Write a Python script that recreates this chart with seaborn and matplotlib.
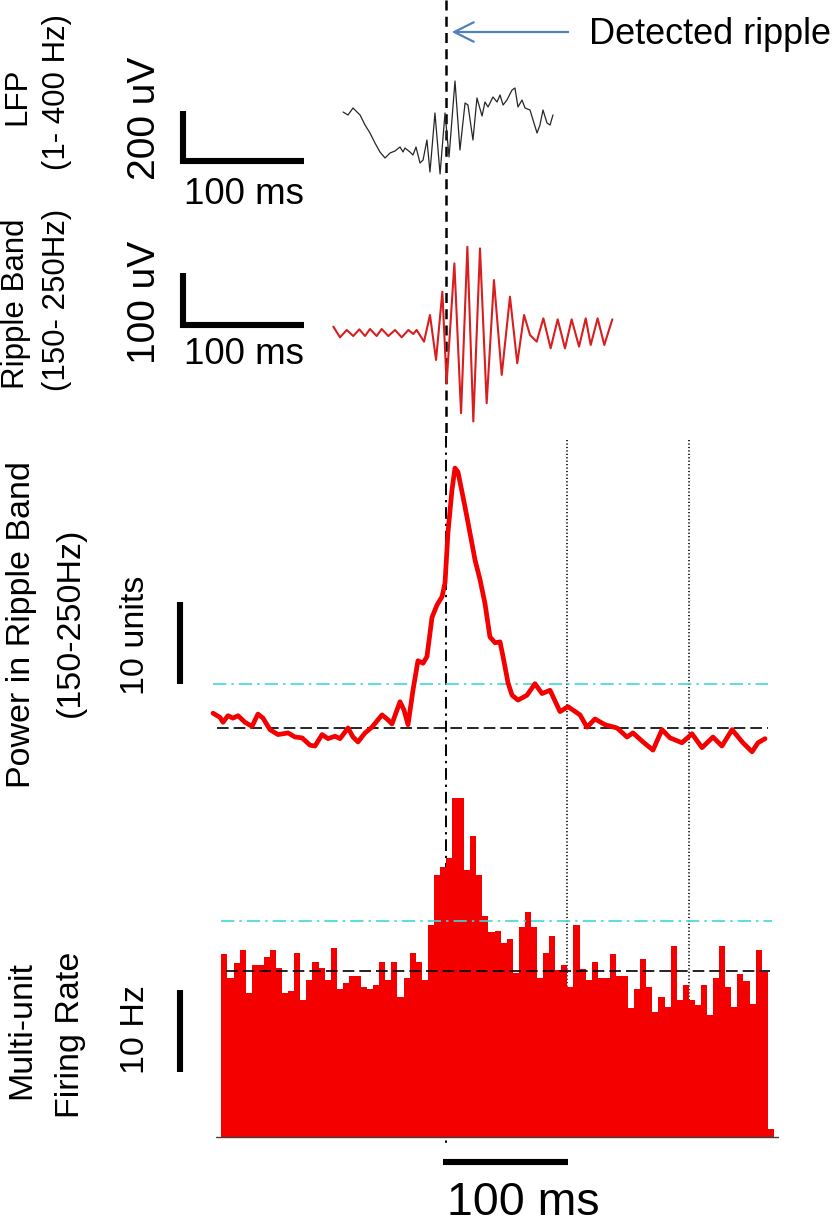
import numpy as np
import pandas as pd
import matplotlib
matplotlib.use("Agg")
import matplotlib.pyplot as plt
import seaborn as sns

sns.set_style("white")
plt.rcParams["font.family"] = ["Liberation Sans", "DejaVu Sans"]

# ---------------- data (time in ms relative to detected ripple) ----------------
lfp_t = [-84.8, -80.7, -76.6, -70.8, -66.7, -62.6, -58.5, -54.4, -50.2, -46.1, -42.0,
         -37.9, -35.4, -33.8, -29.7, -27.2, -24.7, -21.4, -18.9, -15.7, -13.2, -9.1,
         -4.9, -0.8, 2.5, 7.4, 11.5, 15.7, 18.1, 22.2, 25.5, 29.7, 32.1, 34.6, 38.7,
         42.0, 44.5, 47.0, 50.2, 54.4, 56.8, 59.3, 62.6, 65.1, 69.2, 71.7, 75.0, 77.4,
         79.9, 83.2, 85.7, 88.1]
lfp_uv = [72, 60, 88, 60, 20, -12, -52, -88, -112, -92, -84,
          -68, -88, -72, -88, -100, -68, -132, -120, -40, -168, 68,
          -176, 68, -108, 196, -80, 108, 100, -40, 128, 56, 112, 92, 132,
          112, 140, 100, 120, 160, 168, 92, 120, 88, 80, 40, -12, 20,
          80, 28, 20, 60]

ripple_t = [-92.8, -87.3, -81.8, -76.4, -71.4, -66.7, -62.6, -57.1, -53.0, -47.5, -42.0,
            -36.5, -31.0, -26.9, -24.2, -18.1, -13.2, -8.2, -3.0, 0.5, 6.9, 12.4, 17.6,
            22.5, 28.0, 33.5, 39.5, 45.9, 52.7, 58.7, 64.3, 69.2, 74.7, 80.2, 86.2, 92.0,
            98.0, 103.5, 109.6, 115.1, 119.2, 124.9, 130.4, 137.0]
ripple_uv = [12.2, -8.3, 5.8, -5.8, 7.0, -5.8, 7.7, -5.8, 7.7, -5.8, 5.8,
             -8.3, 5.8, -1.9, 5.8, -16.6, 34.6, -51.8, 79.4, -96.6, 133.8, -154.2, 165.8,
             -170.2, 162.6, -135.0, 101.8, -80.6, 69.8, -58.2, 34.6, -3.8, -16.6, 28.2, -29.4, 26.2,
             -29.4, 26.2, -26.2, 28.2, -23.0, 28.2, -23.0, 26.2]

power_t = [-191.9, -186.2, -183.7, -179.6, -175.5, -171.3, -165.6, -159.8, -154.9, -150.7,
           -145.0, -138.4, -130.1, -124.4, -118.6, -112.0, -107.9, -102.1, -97.2, -91.4,
           -87.3, -80.7, -76.6, -72.5, -66.7, -61.0, -52.7, -47.8, -44.5, -37.9,
           -34.6, -31.3, -27.2, -23.1, -18.9, -15.7, -11.5, -7.4, -3.3, -0.8,
           1.6, 4.9, 7.4, 9.9, 14.0, 17.3, 23.9, 28.0, 32.1, 36.2,
           40.4, 44.5, 47.0, 51.1, 54.4, 59.3, 66.7, 73.3, 79.1, 85.7,
           93.9, 100.5, 110.4, 116.1, 122.7, 131.0, 140.9, 149.1, 154.0, 162.3,
           170.5, 177.9, 184.5, 194.4, 202.6, 210.9, 219.9, 227.3, 235.6, 244.6,
           252.1, 257.0, 262.8]
power_units = [6.8, 6.3, 5.7, 6.5, 6.2, 6.5, 5.7, 5.2, 6.7, 6.2,
               4.8, 4.2, 4.4, 3.9, 3.8, 2.9, 2.8, 4.2, 3.7, 4.0,
               3.7, 5.0, 3.9, 3.3, 4.4, 5.1, 6.6, 6.0, 5.5, 8.2,
               7.2, 5.4, 9.6, 13.2, 12.9, 13.7, 18.5, 20.0, 21.0, 22.7,
               28.8, 34.0, 36.7, 36.2, 33.2, 30.7, 25.5, 23.1, 20.2, 16.1,
               15.4, 15.5, 13.7, 10.5, 9.0, 8.4, 9.0, 10.4, 9.2, 9.6,
               7.0, 7.6, 6.6, 5.1, 6.1, 5.4, 5.0, 3.9, 4.4, 3.3,
               2.3, 4.8, 3.8, 3.2, 4.3, 2.6, 3.9, 2.8, 4.8, 3.2,
               2.1, 3.2, 3.7]
power_mean = 5.0
power_thresh = 10.4

mua_bin_start = -185
mua_bin_ms = 5
mua_rate_hz = [22.3, 19.4, 21.2, 22.8, 17.6, 21.0, 21.0, 22.0, 22.8, 20.6,
               17.6, 17.8, 22.4, 16.7, 19.1, 21.3, 20.6, 19.1, 23.0, 18.0,
               18.8, 19.6, 19.6, 18.3, 18.0, 18.5, 21.3, 19.1, 21.3, 17.1,
               19.4, 22.4, 21.3, 19.1, 25.9, 32.0, 32.9, 34.0, 41.3, 41.3,
               32.6, 36.7, 32.0, 27.0, 25.0, 25.1, 23.7, 24.1, 20.0, 25.6,
               27.4, 25.6, 19.4, 22.4, 24.5, 20.4, 21.0, 18.3, 25.9, 20.5,
               19.1, 21.3, 19.4, 19.4, 22.3, 19.6, 19.6, 15.7, 18.0, 21.7,
               18.3, 15.2, 17.1, 15.9, 23.3, 16.7, 18.5, 16.7, 16.1, 18.5,
               14.9, 19.4, 23.3, 18.3, 15.9, 19.9, 19.0, 16.2, 22.8, 20.1,
               1.0]
mua_mean = 20.2
mua_thresh = 26.3

ripple_onset = 0
grid_marks = [100, 200]

# ---------------- layout helpers (figure is laid out in pixels) ----------------
W, H = 838, 1230
T0_PX, PX_PER_MS = 446.0, 1.214
XLIM = (-T0_PX / PX_PER_MS, (W - T0_PX) / PX_PER_MS)

fig = plt.figure(figsize=(W / 100, H / 100), dpi=100)


def panel(top, bottom, zero_px, px_per_unit):
    ax = fig.add_axes([0, 1 - bottom / H, 1, (bottom - top) / H])
    ax.set_xlim(*XLIM)
    ax.set_ylim((zero_px - bottom) / px_per_unit, (zero_px - top) / px_per_unit)
    ax.axis("off")
    ax.patch.set_alpha(0)
    return ax


def ms(px):
    return (px - T0_PX) / PX_PER_MS


def label(x, y, s, size, rot=90, ha="center"):
    fig.text(x / W, 1 - y / H, s, fontsize=size, rotation=rot,
             ha=ha, va="center", color="black")


RED = "#f40000"
CYAN = "#3fd8d8"
BAR_LW = 4.4

# overlay in pixel rows for the event markers and arrow
ov = panel(0, H, 0, -1)
ov.set_ylim(H, 0)

ax_lfp = panel(0, 200, 130, 0.25)
ax_rip = panel(200, 430, 333, 0.52)
ax_pow = panel(430, 780, 769, 8.2)
ax_mua = panel(780, 1180, 1137, 8.2)
mua_ylim = ax_mua.get_ylim()

# ---------------- LFP ----------------
sns.lineplot(x=lfp_t, y=lfp_uv, ax=ax_lfp, color="#262626", lw=0.9,
             estimator=None, sort=False)
ax_lfp.plot([ms(183), ms(183), ms(183) + 100], [-124 + 200, -124, -124],
            color="black", lw=BAR_LW, solid_joinstyle="miter", solid_capstyle="butt")

# ---------------- ripple band ----------------
sns.lineplot(x=ripple_t, y=ripple_uv, ax=ax_rip, color="#d81e1e", lw=1.5,
             estimator=None, sort=False)
for ln in ax_rip.lines:
    ln.set_solid_joinstyle("round")
ax_rip.plot([ms(183), ms(183), ms(183) + 100], [15.4 + 100, 15.4, 15.4],
            color="black", lw=BAR_LW, solid_joinstyle="miter", solid_capstyle="butt")

# ---------------- ripple-band power ----------------
ax_pow.plot([ms(213), ms(768)], [power_thresh] * 2, color=CYAN, lw=1.2,
            ls=(0, (8, 3, 1.5, 3)))
ax_pow.plot([ms(217), ms(768)], [power_mean] * 2, color="black", lw=1.2,
            ls=(0, (7, 3)))
sns.lineplot(x=power_t, y=power_units, ax=ax_pow, color=RED, lw=3.4,
             estimator=None, sort=False)
ax_pow.plot([ms(180)] * 2, [10.4, 20.4], color="black", lw=BAR_LW,
            solid_capstyle="butt")

# ---------------- multi-unit firing rate ----------------
n_bins = len(mua_rate_hz)
bin_left = mua_bin_start + mua_bin_ms * np.arange(n_bins)
mua = pd.DataFrame({"t": bin_left + mua_bin_ms / 2, "rate": mua_rate_hz})
sns.histplot(data=mua, x="t", weights="rate", binwidth=mua_bin_ms,
             binrange=(mua_bin_start, mua_bin_start + mua_bin_ms * n_bins),
             ax=ax_mua, color=RED, alpha=1, linewidth=0, element="bars")
ax_mua.axis("off")
ax_mua.set_xlim(*XLIM)
ax_mua.set_ylim(*mua_ylim)
ax_mua.plot([ms(216), ms(778)], [0, 0], color="#404040", lw=1.0)
ax_mua.plot([ms(221), ms(772)], [mua_thresh] * 2, color=CYAN, lw=1.2,
            ls=(0, (8, 3, 1.5, 3)))
ax_mua.plot([ms(226), ms(770)], [mua_mean] * 2, color="black", lw=1.2,
            ls=(0, (7, 3)))
ax_mua.plot([ms(180)] * 2, [7.9, 17.9], color="black", lw=BAR_LW,
            solid_capstyle="butt")
ax_mua.plot([ms(443), ms(443) + 103], [-3.1, -3.1], color="black", lw=BAR_LW,
            solid_capstyle="butt", clip_on=False)

# ---------------- event markers ----------------
ov.plot([ripple_onset] * 2, [0, 436], color="black", lw=1.8, ls=(0, (4, 2.5)))
ov.plot([ripple_onset] * 2, [436, 1146], color="black", lw=1.4,
        ls=(0, (6, 2.5, 1.2, 2.5)))
for g in grid_marks:
    ov.plot([g] * 2, [440, 1137], color="#1a1a1a", lw=1.3, ls=(0, (0.7, 1.2)))

ov.annotate("", xy=(ms(449), 32), xytext=(ms(571), 32),
            arrowprops=dict(arrowstyle="->,head_length=0.7,head_width=0.35",
                            color="#4f81bd", lw=1.6, mutation_scale=20))

# ---------------- text ----------------
label(589, 35, "Detected ripple", 26, rot=0, ha="left")

label(17, 96, "LFP", 22.5)
label(57, 92, "(1- 400 Hz)", 22.5)
label(145, 118, "200 uV", 28)
label(244, 194, "100 ms", 26.5, rot=0)

label(16, 304, "Ripple Band", 22.5)
label(57, 300, "(150- 250Hz)", 22.5)
label(145, 302, "100 uV", 28)
label(244, 355, "100 ms", 26.5, rot=0)

label(22, 625, "Power in Ripple Band", 24.5)
label(70, 622, "(150-250Hz)", 24.5)
label(135, 635, "10 units", 24.5)

label(22, 1030, "Multi-unit", 24.5)
label(70, 1035, "Firing Rate", 24.5)
label(135, 1030, "10 Hz", 24.5)

label(523, 1203, "100 ms", 33.5, rot=0)

fig.savefig("out.png", dpi=100)
